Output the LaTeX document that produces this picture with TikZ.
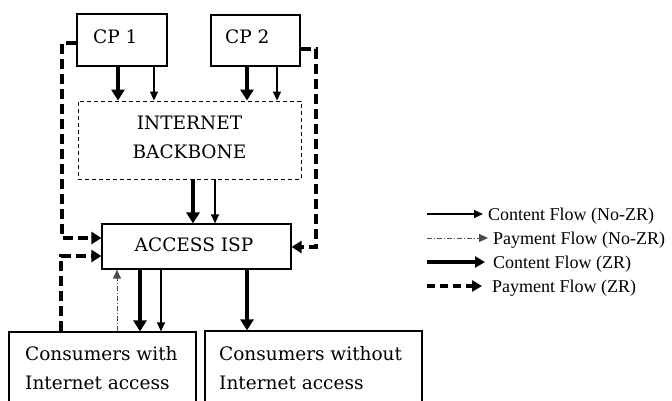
\documentclass[tikz,border=0pt]{standalone}
\usepackage{fontspec}
\setmainfont{DejaVu Serif}
\newfontfamily\legfont{Liberation Serif}
\usetikzlibrary{arrows.meta,calc}
\begin{document}
\begin{tikzpicture}[x=1pt,y=-1pt,
  box/.style={draw=black, line width=1.2pt, inner sep=0pt},
  lbl/.style={font=\fontsize{18.5}{22}\selectfont, inner sep=0pt},
  leg/.style={font=\legfont\fontsize{18}{22}\selectfont, inner sep=0pt, anchor=base west},
  thickarr/.style={line width=4pt, -{Triangle[length=11pt,width=13pt]}},
  thinarr/.style={line width=1.2pt, -{Triangle[length=9pt,width=8pt]}},
  payarr/.style={line width=4pt, dash pattern=on 10pt off 5pt, -{Triangle[length=10pt,width=12pt]}},
  pay2arr/.style={line width=1pt, black!70, dash pattern=on 5pt off 2pt on 1pt off 2pt, -{Triangle[length=9pt,width=8pt]}}
]
\useasboundingbox (0,0) rectangle (672,400);
\clip (0,0) rectangle (672,400);

% boxes
\node[box, minimum width=90pt, minimum height=52pt] (cp1) at (122,40) {};
\node[box, minimum width=89pt, minimum height=51pt] (cp2) at (255.5,40.5) {};
\node[box, line width=0.9pt, dash pattern=on 4pt off 3pt, minimum width=223pt, minimum height=78pt] (bb) at (189.5,140) {};
\node[box, minimum width=189pt, minimum height=45pt] (isp) at (196.5,246.5) {};
\node[box, minimum width=187pt, minimum height=100pt] (cw) at (102.5,382) {};
\node[box, minimum width=217pt, minimum height=100pt] (cwo) at (313.5,381) {};

% texts
\node[lbl, anchor=base west] (cp1t) at (93,43) {CP 1};
\node[lbl, anchor=base west] (cp2t) at (225,43) {CP 2};
\node[lbl, anchor=base] (bbt1) at (189.5,129) {INTERNET};
\node[lbl, anchor=base] (bbt2) at (189.5,158) {BACKBONE};
\node[lbl, anchor=base] (ispt) at (194,251) {ACCESS ISP};
\node[lbl, anchor=base west] (cwt1) at (25,360) {Consumers with};
\node[lbl, anchor=base west] (cwt2) at (25,389) {Internet access};
\node[lbl, anchor=base west] (cwot1) at (219,360) {Consumers without};
\node[lbl, anchor=base west] (cwot2) at (219,389) {Internet access};

% content flows
\draw[thickarr] ([xshift=-4pt]cp1.south) -- ([xshift=-4pt]cp1.south |- bb.north);
\draw[thinarr] ([xshift=32pt]cp1.south) -- ([xshift=32pt]cp1.south |- bb.north);
\draw[thickarr] ([xshift=-8.5pt]cp2.south) -- ([xshift=-8.5pt]cp2.south |- bb.north);
\draw[thinarr] ([xshift=21.5pt]cp2.south) -- ([xshift=21.5pt]cp2.south |- bb.north);
\draw[thickarr] ([xshift=3.5pt]bb.south) -- ([xshift=3.5pt]bb.south |- isp.north);
\draw[thinarr] ([xshift=25.5pt]bb.south) -- ([xshift=25.5pt]bb.south |- isp.north);
\draw[thickarr] ([xshift=-56.5pt]isp.south) -- ([xshift=-56.5pt]isp.south |- cw.north);
\draw[thinarr] ([xshift=-35.5pt]isp.south) -- ([xshift=-35.5pt]isp.south |- cw.north);
\draw[thickarr] ([xshift=50.5pt]isp.south) -- ([xshift=50.5pt]isp.south |- cwo.north);

% payment flows
\draw[pay2arr] ([xshift=14.5pt]cw.north) -- ([xshift=14.5pt]cw.north |- isp.south);
\draw[payarr] ([yshift=-3pt]cp1.west) -- ++(-14,0) |- ([yshift=8.5pt]isp.west);
\draw[payarr] ([yshift=-8.5pt]cp2.east) -- ++(15,0) |- ([yshift=-0.5pt]isp.east);
\draw[payarr] ([xshift=-41.5pt]cw.north) |- ([yshift=-9.5pt]isp.west);

% legend
\coordinate (s1) at (427,214); \coordinate (e1) at (483,214);
\coordinate (s2) at (427,238); \coordinate (e2) at (488,238);
\coordinate (s3) at (427,262); \coordinate (e3) at (485,262);
\coordinate (s4) at (427,286); \coordinate (e4) at (482,286);
\draw[thinarr] (s1) -- (e1);
\draw[pay2arr] (s2) -- (e2);
\draw[thickarr, -{Triangle[length=10pt,width=11pt]}] (s3) -- (e3);
\draw[payarr, dash pattern=on 8pt off 5pt, -{Triangle[length=10pt,width=11pt]}] (s4) -- (e4);
\node[leg] (l1) at (488,220) {Content Flow (No-ZR)};
\node[leg] (l2) at (493,244) {Payment Flow (No-ZR)};
\node[leg] (l3) at (493,268) {Content Flow (ZR)};
\node[leg] (l4) at (492,292) {Payment Flow (ZR)};
\end{tikzpicture}
\end{document}
